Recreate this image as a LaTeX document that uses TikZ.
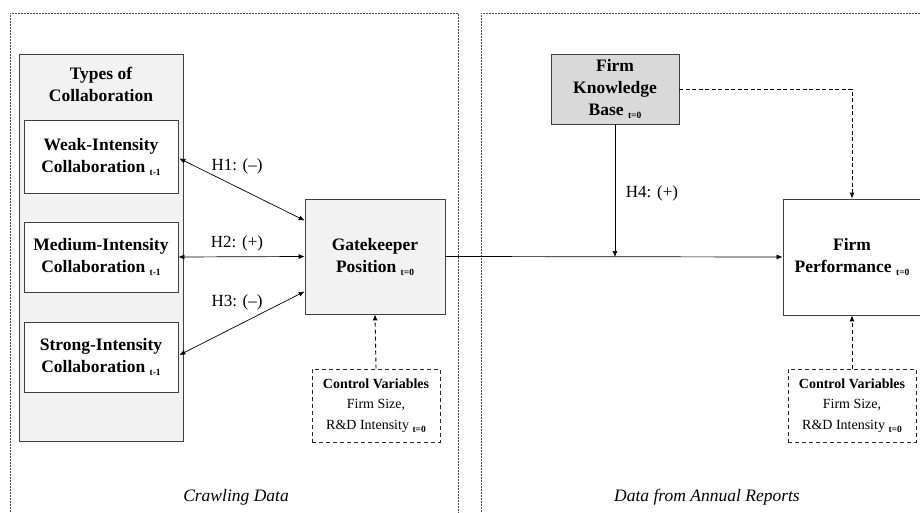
\documentclass[tikz,border=0pt]{standalone}
\usepackage{fontspec}
\setmainfont{Liberation Serif}
\usetikzlibrary{arrows.meta,calc}
\newcommand{\lowsub}[1]{\ {\fontsize{9.5}{9.5}\selectfont\bfseries\raisebox{-3pt}{#1}}}
\definecolor{lightfill}{HTML}{F2F2F2}
\definecolor{darkfill}{HTML}{D9D9D9}
\tikzset{
  box/.style={draw=black!75, line width=0.8pt, align=center, inner sep=0pt,
    font=\fontsize{17.5}{22}\selectfont\bfseries},
  ctrlbox/.style={draw=black!85, dash pattern=on 4pt off 3pt, line width=0.9pt, align=center,
    inner sep=0pt, minimum width=128pt, minimum height=73pt, font=\fontsize{14}{20.5}\selectfont},
  frameline/.style={draw=black!70, dash pattern=on 2pt off 1pt, line width=0.7pt},
  arr/.style={-{Latex[length=6pt,width=5pt]}, line width=0.7pt},
  darr/.style={{Latex[length=6pt,width=5pt]}-{Latex[length=6pt,width=5pt]}, line width=0.7pt},
  dsharr/.style={-{Latex[length=6pt,width=5pt]}, line width=0.9pt, dash pattern=on 4pt off 3pt},
  hlab/.style={font=\fontsize{17}{19}\selectfont},
  srclab/.style={font=\fontsize{17.5}{19}\selectfont\itshape}
}
\begin{document}
\begin{tikzpicture}[x=1pt,y=-1pt]
\useasboundingbox (0,0) rectangle (920,513);
% frames
\draw[frameline] (10,530) -- (10,13) -- (458,13) -- (458,530);
\draw[frameline] (481,530) -- (481,13) -- (930,13);
% left part
\node[box, fill=lightfill, minimum width=164pt, minimum height=387pt] (types) at (101,247.5) {};
\node[box, draw=none, fill=none] (typestitle) at (101,84) {Types of\\Collaboration};
\node[box, fill=white, minimum width=154pt, minimum height=73pt] (weak) at (101,156.5) {Weak-Intensity\\Collaboration\lowsub{t-1}};
\node[box, fill=white, minimum width=154pt, minimum height=70pt] (medium) at (101,257) {Medium-Intensity\\Collaboration\lowsub{t-1}};
\node[box, fill=white, minimum width=154pt, minimum height=70pt] (strong) at (101,357) {Strong-Intensity\\Collaboration\lowsub{t-1}};
\node[box, fill=lightfill, minimum width=140pt, minimum height=115pt] (gk) at (375,256.5) {Gatekeeper\\Position\lowsub{t=0}};
\node[ctrlbox] (ctrlL) at (376,405.5) {{\bfseries Control Variables}\\Firm Size,\\R\&D Intensity\lowsub{t=0}};
\node[srclab] (crawl) at (236,497) {Crawling Data};
% right part
\node[box, fill=darkfill, minimum width=128pt, minimum height=70pt] (fkb) at (615,89) {Firm\\Knowledge\\Base\lowsub{t=0}};
\node[box, fill=white, minimum width=138pt, minimum height=116pt] (fp) at (852,257) {Firm\\Performance\lowsub{t=0}};
\node[ctrlbox] (ctrlR) at (852,405.5) {{\bfseries Control Variables}\\Firm Size,\\R\&D Intensity\lowsub{t=0}};
\node[srclab] (annual) at (707,497) {Data from Annual Reports};
% connectors
\draw[darr] ([xshift=1pt,yshift=-2pt]weak.east) -- ([yshift=36pt]gk.west);
\node[hlab] (h1) at (237,166) {H1: (–)};
\draw[darr] (medium.east) -- (gk.west);
\node[hlab] (h2) at (237,243) {H2: (+)};
\draw[darr] ([xshift=1pt,yshift=2pt]strong.east) -- ([yshift=-35pt]gk.west);
\node[hlab] (h3) at (237,302) {H3: (–)};
\draw[dsharr] (ctrlL.north) -- (gk.south);
\coordinate (mod) at (615,257);
\draw[arr] (gk.east) -- (fp.west);
\draw[arr] (fkb.south) -- (mod);
\node[hlab] (h4) at (652,193) {H4: (+)};
\draw[dsharr, line width=0.8pt, dash pattern=on 4pt off 2.5pt] (fkb.east) -| (fp.north);
\draw[dsharr] (ctrlR.north) -- (fp.south);
\end{tikzpicture}
\end{document}
